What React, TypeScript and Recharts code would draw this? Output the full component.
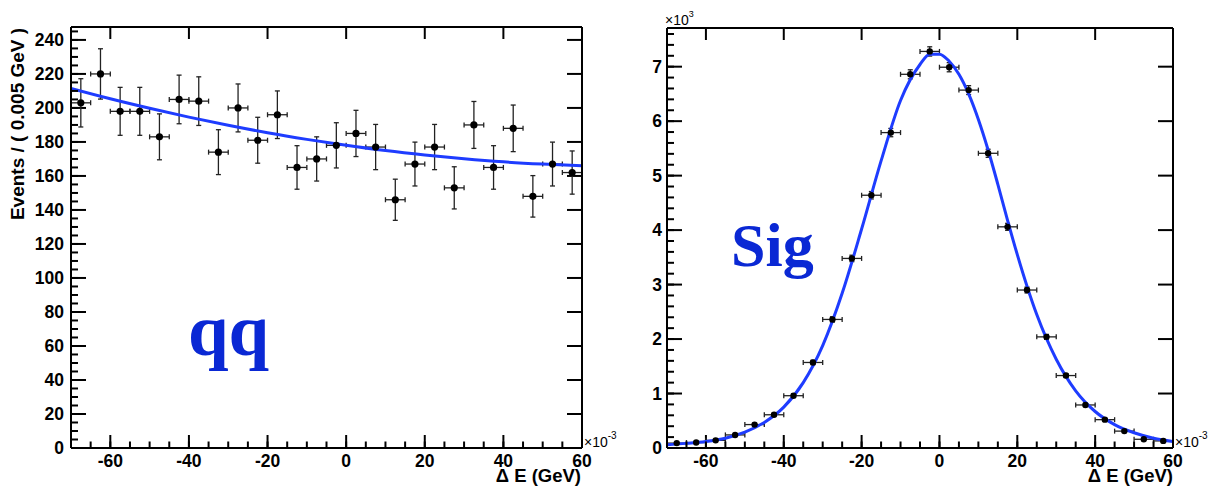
import { ComposedChart, Scatter, Line, XAxis, YAxis, ErrorBar, ReferenceLine } from "recharts";

// bin centres (x10^-3 GeV), bins of 0.005 GeV
const binCenters = [
	-67.5, -62.5, -57.5, -52.5, -47.5, -42.5, -37.5, -32.5, -27.5, -22.5, -17.5, -12.5, -7.5,
	-2.5, 2.5, 7.5, 12.5, 17.5, 22.5, 27.5, 32.5, 37.5, 42.5, 47.5, 52.5, 57.5,
];
const binHalfWidth = 2.5;

// qq background
const qqCounts = [
	203, 220, 198, 198, 183, 205, 204, 174, 200, 181, 196, 165, 170, 178, 185, 177, 146, 167, 177,
	153, 190, 165, 188, 148, 167, 162,
];
const qqErrors = [
	14.2, 14.8, 14.1, 14.1, 13.5, 14.3, 14.3, 13.2, 14.1, 13.5, 14.0, 12.8, 13.0, 13.3, 13.6, 13.3,
	12.1, 12.9, 13.3, 12.4, 13.8, 12.8, 13.7, 12.2, 12.9, 12.7,
];
const qqFitX = [-70, -60, -50, -40, -30, -20, -10, 0, 10, 20, 30, 40, 50, 60];
const qqFitY = [211.5, 205.4, 199.8, 194.6, 189.8, 185.4, 181.5, 178, 174.9, 172.3, 170.1, 168.3, 167, 166];

// signal
const sigCounts = [
	90, 100, 140, 240, 430, 610, 960, 1570, 2360, 3480, 4640, 5790, 6860, 7280, 6990, 6570, 5410,
	4060, 2900, 2040, 1330, 790, 520, 310, 160, 130,
];
const sigErrors = [
	9.5, 10, 12, 15, 21, 25, 31, 40, 49, 59, 68, 76, 83, 85, 84, 81, 74, 64, 54, 45, 36, 28, 23, 18,
	13, 11,
];
const sigFitX = [
	-70, -65, -60, -55, -50, -45, -40, -35, -30, -25, -20, -15, -10, -5, -2.5, 0, 2.5, 5, 7.5, 10,
	12.5, 15, 17.5, 20, 25, 30, 35, 40, 45, 50, 55, 60,
];
const sigFitY = [
	60, 85, 120, 180, 290, 470, 750, 1200, 1880, 2840, 4020, 5270, 6380, 7040, 7230, 7230, 7100,
	6860, 6500, 6030, 5470, 4840, 4180, 3550, 2450, 1630, 1050, 670, 430, 280, 180, 120,
];

const xDomain: [number, number] = [-70, 60];
const qqYDomain: [number, number] = [0, 247.6];
const sigYDomain: [number, number] = [0, 7710];

const range = (from: number, to: number, step: number) => {
	const out: number[] = [];
	for (let v = from; v <= to + 1e-9; v += step) out.push(v);
	return out;
};
const xTicks = range(-65, 60, 5);
const xMajorTicks = [-60, -40, -20, 0, 20, 40, 60];
const qqYTicks = range(0, 245, 5);
const qqYMajorTicks = [0, 20, 40, 60, 80, 100, 120, 140, 160, 180, 200, 220, 240];
const sigYTicks = range(0, 7600, 200);
const sigYMajorTicks = [0, 1000, 2000, 3000, 4000, 5000, 6000, 7000];

const BLUE_TEXT = "#0a28d4";
const BLUE_LINE = "#1e3cff";
const SANS = "'Liberation Sans', Arial, Helvetica, sans-serif";
const SERIF = "'Liberation Serif', 'Times New Roman', serif";

const qqPoints = binCenters.map((x, i) => ({ x, y: qqCounts[i], ey: qqErrors[i], ex: binHalfWidth }));
const qqFit = qqFitX.map((x, i) => ({ x, y: qqFitY[i] }));
const sigPoints = binCenters.map((x, i) => ({ x, y: sigCounts[i], ey: sigErrors[i], ex: binHalfWidth }));
const sigFit = sigFitX.map((x, i) => ({ x, y: sigFitY[i] }));

const frame = { stroke: "#000", strokeWidth: 2 };
const tickLineStyle = { stroke: "#000", strokeWidth: 2 };
const X_MINOR = 6.5;
const Y_MINOR = 7;

// long major ticks on both ends of each major grid position (minor ones come from tickSize)
const vMajorShape = (p: any) => {
	const top = Math.min(p.y1, p.y2);
	const bot = Math.max(p.y1, p.y2);
	return (
		<g>
			<line x1={p.x1} x2={p.x1} y1={bot} y2={bot - 13} stroke="#000" strokeWidth={2} />
			<line x1={p.x1} x2={p.x1} y1={top} y2={top + 12} stroke="#000" strokeWidth={2} />
		</g>
	);
};
const hMajorShape = (p: any) => {
	const left = Math.min(p.x1, p.x2);
	const right = Math.max(p.x1, p.x2);
	return (
		<g>
			<line x1={left} x2={left + 15} y1={p.y1} y2={p.y1} stroke="#000" strokeWidth={2} />
			<line x1={right} x2={right - 15} y1={p.y1} y2={p.y1} stroke="#000" strokeWidth={2} />
		</g>
	);
};

function bottomLabel(p: any) {
	const v = p.payload.value;
	if (v % 20 !== 0) return <g />;
	const base = p.y + X_MINOR;
	return (
		<text x={p.x} y={base + 18.5} textAnchor="middle" fontFamily={SANS} fontWeight="bold" fontSize={17.5} fill="#000">
			{v}
		</text>
	);
}

function makeLeftLabel(isMajor: (v: number) => boolean, fmt: (v: number) => string, gap: number) {
	return (p: any) => {
		const v = p.payload.value;
		if (!isMajor(v)) return <g />;
		const base = p.x - Y_MINOR;
		return (
			<text x={base - gap} y={p.y + 6.3} textAnchor="end" fontFamily={SANS} fontWeight="bold" fontSize={17.5} fill="#000">
				{fmt(v)}
			</text>
		);
	};
}

const qqMajor = (v: number) => v % 20 === 0;
const sigMajor = (v: number) => v % 1000 === 0;

const dot = (r: number) => (p: any) => <circle cx={p.cx} cy={p.cy} r={r} fill="#000" />;

function Panel({
	points,
	fit,
	yDomain,
	yTicks,
	yMajorTicks,
	yMajor,
	yFmt,
	yAxisWidth,
	labelGap,
	margin,
	width,
	r,
}: {
	points: any[];
	fit: any[];
	yDomain: [number, number];
	yTicks: number[];
	yMajorTicks: number[];
	yMajor: (v: number) => boolean;
	yFmt: (v: number) => string;
	yAxisWidth: number;
	labelGap: number;
	margin: { top: number; right: number; bottom: number; left: number };
	width: number;
	r: number;
}) {
	return (
		<ComposedChart width={width} height={492} margin={margin}>
			<XAxis
				xAxisId="b"
				dataKey="x"
				type="number"
				domain={xDomain}
				allowDataOverflow
				ticks={xTicks}
				interval={0}
				height={44}
				tickSize={-X_MINOR}
				tickMargin={0}
				tickLine={tickLineStyle}
				axisLine={frame}
				tick={bottomLabel}
			/>
			<XAxis
				xAxisId="t"
				orientation="top"
				type="number"
				domain={xDomain}
				allowDataOverflow
				ticks={xTicks}
				interval={0}
				height={1}
				tickSize={-6}
				tickLine={tickLineStyle}
				tick={false}
				axisLine={frame}
			/>
			<YAxis
				yAxisId="l"
				type="number"
				domain={yDomain}
				allowDataOverflow
				ticks={yTicks}
				interval={0}
				width={yAxisWidth}
				tickSize={-Y_MINOR}
				tickMargin={0}
				tickLine={tickLineStyle}
				axisLine={frame}
				tick={makeLeftLabel(yMajor, yFmt, labelGap)}
			/>
			<YAxis
				yAxisId="r"
				orientation="right"
				type="number"
				domain={yDomain}
				allowDataOverflow
				ticks={yTicks}
				interval={0}
				width={1}
				tickSize={-Y_MINOR}
				tickLine={tickLineStyle}
				tick={false}
				axisLine={frame}
			/>
			{xMajorTicks.map((v) => (
				<ReferenceLine key={`x${v}`} x={v} xAxisId="b" yAxisId="l" shape={vMajorShape} />
			))}
			{yMajorTicks.map((v) => (
				<ReferenceLine key={`y${v}`} y={v} xAxisId="b" yAxisId="l" shape={hMajorShape} />
			))}
			<Scatter
				xAxisId="b"
				yAxisId="l"
				data={points}
				dataKey="y"
				shape={dot(r)}
				isAnimationActive={false}
			>
				<ErrorBar dataKey="ex" direction="x" width={2.5} stroke="#222" strokeWidth={1.3} />
				<ErrorBar dataKey="ey" direction="y" width={2.5} stroke="#222" strokeWidth={1.3} />
			</Scatter>
			<Line
				xAxisId="b"
				yAxisId="l"
				data={fit}
				dataKey="y"
				type="monotone"
				dot={false}
				activeDot={false}
				stroke={BLUE_LINE}
				strokeWidth={3}
				isAnimationActive={false}
			/>
		</ComposedChart>
	);
}

export default function App() {
	return (
		<div style={{ position: "fixed", top: 0, left: 0, width: 1209, height: 492, background: "#fff" }}>
			<svg width={1209} height={492} style={{ position: "absolute", left: 0, top: 0 }}>
				<text
					transform="translate(24,124) rotate(-90)"
					textAnchor="middle"
					fontFamily={SANS}
					fontWeight="bold"
					fontSize={19}
					fill="#000"
				>
					Events / ( 0.005 GeV )
				</text>
				<text x={581} y={482} textAnchor="end" fontFamily={SANS} fontWeight="bold" fontSize={18.5} fill="#000">
					Δ E (GeV)
				</text>
				<text x={1173} y={482} textAnchor="end" fontFamily={SANS} fontWeight="bold" fontSize={18.5} fill="#000">
					Δ E (GeV)
				</text>
				<text x={584} y={447} fontFamily={SANS} fontSize={14} fill="#000">
					×10<tspan fontSize={10} dy={-8}>-3</tspan>
				</text>
				<text x={1175} y={447} fontFamily={SANS} fontSize={14} fill="#000">
					×10<tspan fontSize={10} dy={-8}>-3</tspan>
				</text>
				<text x={665} y={25} fontFamily={SANS} fontSize={14} fill="#000">
					×10<tspan fontSize={9} dy={-8}>3</tspan>
				</text>
				<text x={188} y={355} fontFamily={SERIF} fontWeight="bold" fontSize={73} fill={BLUE_TEXT}>
					qq
				</text>
				<text x={731} y={266} fontFamily={SERIF} fontWeight="bold" fontSize={62} fill={BLUE_TEXT}>
					Sig
				</text>
			</svg>
			<div style={{ position: "absolute", left: 0, top: 0 }}>
				<Panel
					points={qqPoints}
					fit={qqFit}
					yDomain={qqYDomain}
					yTicks={qqYTicks}
					yMajorTicks={qqYMajorTicks}
					yMajor={qqMajor}
					yFmt={(v) => String(v)}
					yAxisWidth={71}
					labelGap={7}
					margin={{ top: 26, right: 21, bottom: 0, left: 0 }}
					width={604}
					r={3.6}
				/>
			</div>
			<div style={{ position: "absolute", left: 604, top: 0 }}>
				<Panel
					points={sigPoints}
					fit={sigFit}
					yDomain={sigYDomain}
					yTicks={sigYTicks}
					yMajorTicks={sigYMajorTicks}
					yMajor={sigMajor}
					yFmt={(v) => String(v / 1000)}
					yAxisWidth={63}
					labelGap={5}
					margin={{ top: 27, right: 35, bottom: 0, left: 0 }}
					width={605}
					r={3.2}
				/>
			</div>
		</div>
	);
}
